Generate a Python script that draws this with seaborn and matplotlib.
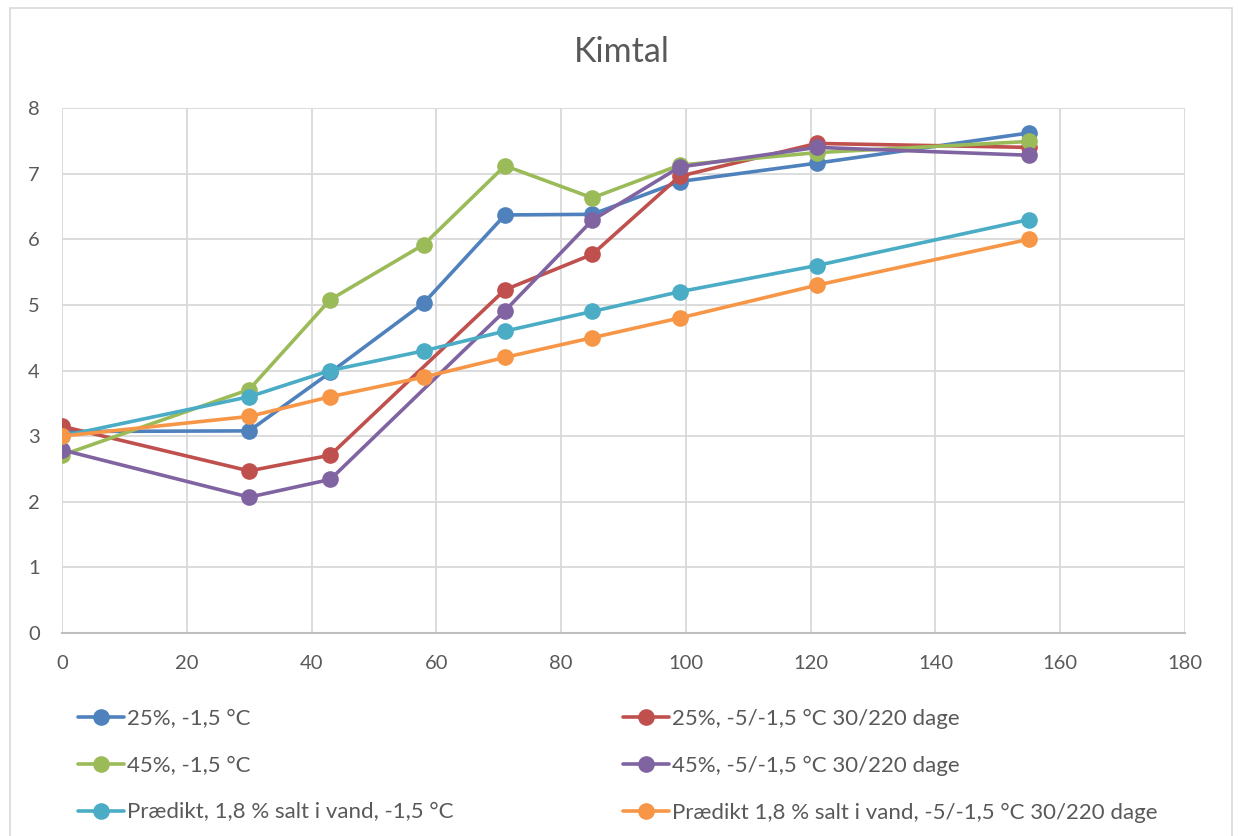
import numpy as np
import pandas as pd
import matplotlib
matplotlib.use("Agg")
import matplotlib.pyplot as plt
from matplotlib.lines import Line2D
from matplotlib.patches import Rectangle
import seaborn as sns

# Storage days
dage = [0, 30, 43, 58, 71, 85, 99, 121, 155]

# Germination count per series (NaN = not measured)
s25_15 = [3.07, 3.08, 3.97, 5.03, 6.37, 6.38, 6.88, 7.16, 7.62]
s25_5 = [3.15, 2.47, 2.71, np.nan, 5.23, 5.77, 6.96, 7.46, 7.40]
s45_15 = [2.71, 3.71, 5.08, 5.92, 7.12, 6.63, 7.13, 7.32, 7.49]
s45_5 = [2.79, 2.07, 2.34, np.nan, 4.91, 6.29, 7.10, 7.40, 7.28]
pred_15 = [3.0, 3.6, 4.0, 4.3, 4.6, 4.9, 5.2, 5.6, 6.3]
pred_5 = [3.0, 3.3, 3.6, 3.9, 4.2, 4.5, 4.8, 5.3, 6.0]

labels = [
    "25%, -1,5 °C",
    "25%, -5/-1,5 °C 30/220 dage",
    "45%, -1,5 °C",
    "45%, -5/-1,5 °C 30/220 dage",
    "Prædikt, 1,8 % salt i vand, -1,5 °C",
    "Prædikt 1,8 % salt i vand, -5/-1,5 °C 30/220 dage",
]
colors = ["#4F81BD", "#C0504D", "#9BBB59", "#8064A2", "#4BACC6", "#F79646"]
series = [s25_15, s25_5, s45_15, s45_5, pred_15, pred_5]

frames = [pd.DataFrame({"dage": dage, "kimtal": vals, "serie": lab})
          for lab, vals in zip(labels, series)]
df = pd.concat(frames, ignore_index=True).dropna()

sns.set_theme(style="white")
plt.rcParams["font.family"] = ["Lato", "DejaVu Sans"]
text_color = "#595959"
grid_color = "#D9D9D9"

W, H = 1238, 836
fig = plt.figure(figsize=(W / 100, H / 100), dpi=100)
fig.patch.set_facecolor("white")

# outer chart frame
fig.add_artist(Rectangle((10 / W, -0.01), 1222 / W, 1 - 8 / H + 0.01,
                         transform=fig.transFigure, fill=False,
                         edgecolor=grid_color, linewidth=1.2))

ax = fig.add_axes([62 / W, 1 - 633 / H, (1185 - 62) / W, (633 - 108) / H])
palette = dict(zip(labels, colors))
sns.lineplot(data=df, x="dage", y="kimtal", hue="serie", hue_order=labels,
             palette=palette, marker="o", markersize=12, markeredgewidth=0,
             linewidth=2.6, sort=False, legend=False, ax=ax)

ax.set_xlim(0, 180)
ax.set_ylim(0, 8)
ax.set_xticks(range(0, 181, 20))
ax.set_yticks(range(0, 9))
ax.set_xlabel("")
ax.set_ylabel("")
ax.grid(True, color=grid_color, linewidth=1.3)
ax.set_axisbelow(True)
for side in ["top", "right", "left"]:
    ax.spines[side].set_visible(False)
ax.spines["bottom"].set_color("#BFBFBF")
ax.spines["bottom"].set_linewidth(1.5)
ax.tick_params(axis="both", length=0, labelsize=14.5, labelcolor=text_color)
ax.tick_params(axis="x", pad=16)
ax.tick_params(axis="y", pad=16)

fig.text(622 / W, 1 - 52 / H, "Kimtal", ha="center", va="center",
         fontsize=24.5, color=text_color)

handles = [Line2D([], [], color=c, linewidth=2.6, marker="o", markersize=12,
                  markeredgewidth=0) for c in colors]
leg_kw = dict(loc="upper left", frameon=False, fontsize=16, labelcolor=text_color,
              handlelength=2.05, handletextpad=0.15, labelspacing=1.2,
              borderpad=0, borderaxespad=0)
left_idx = [0, 2, 4]
right_idx = [1, 3, 5]
fig.legend([handles[i] for i in left_idx], [labels[i] for i in left_idx],
           bbox_to_anchor=(78 / W, 1 - 709 / H), **leg_kw)
fig.legend([handles[i] for i in right_idx], [labels[i] for i in right_idx],
           bbox_to_anchor=(623 / W, 1 - 709 / H), **leg_kw)

fig.savefig("out.png", dpi=100, facecolor="white")
